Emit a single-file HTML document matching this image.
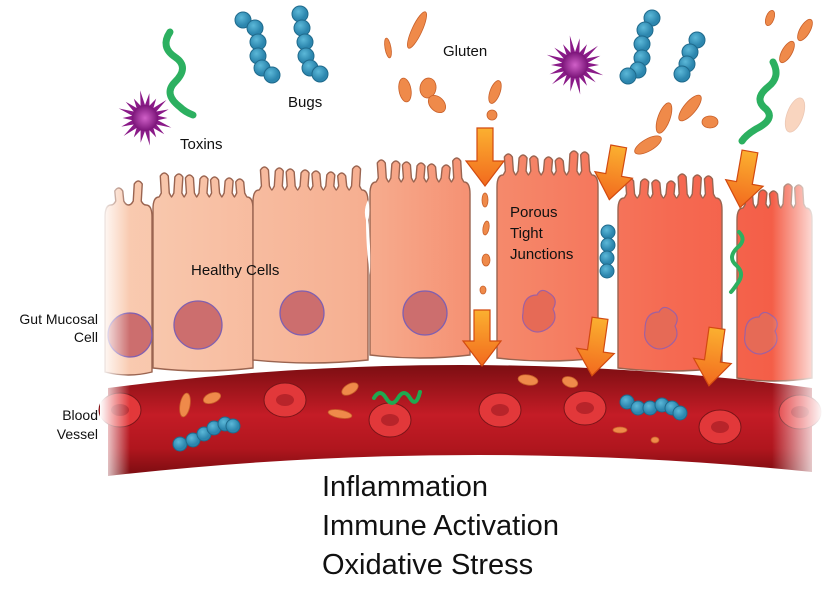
<!DOCTYPE html>
<html><head><meta charset="utf-8"><style>
html,body{margin:0;padding:0;background:#fff;width:824px;height:591px;overflow:hidden}
svg{display:block}
text{font-family:"Liberation Sans",Arial,sans-serif;fill:#111}
</style></head><body>
<svg id="s" width="824" height="591" viewBox="0 0 824 591" xmlns="http://www.w3.org/2000/svg">
<defs>
<linearGradient id="cellg" gradientUnits="userSpaceOnUse" x1="110" y1="0" x2="810" y2="0">
<stop offset="0" stop-color="#f9ccb2"/><stop offset="0.35" stop-color="#f6b092"/><stop offset="0.55" stop-color="#f58a6c"/><stop offset="0.8" stop-color="#f56a52"/><stop offset="1" stop-color="#f45a44"/></linearGradient>
<linearGradient id="bv" x1="0" y1="0" x2="0" y2="1">
<stop offset="0" stop-color="#7c0e12"/><stop offset="0.45" stop-color="#c41c26"/><stop offset="0.75" stop-color="#b0161e"/><stop offset="1" stop-color="#7a0c10"/></linearGradient>
<linearGradient id="arr" x1="0" y1="0" x2="0" y2="1">
<stop offset="0" stop-color="#fbb030"/><stop offset="1" stop-color="#f26a1e"/></linearGradient>
<linearGradient id="fl" x1="0" x2="1"><stop offset="0" stop-color="#fff" stop-opacity="1"/><stop offset="1" stop-color="#fff" stop-opacity="0"/></linearGradient>
<linearGradient id="fr" x1="0" x2="1"><stop offset="0" stop-color="#fff" stop-opacity="0"/><stop offset="1" stop-color="#fff" stop-opacity="1"/></linearGradient>
<radialGradient id="tox"><stop offset="0" stop-color="#d060c8"/><stop offset="1" stop-color="#7a1478"/></radialGradient>
<radialGradient id="bug" cx="0.4" cy="0.35"><stop offset="0" stop-color="#5cb8d8"/><stop offset="1" stop-color="#2c86ae"/></radialGradient>
</defs>
<g id="cells"></g>
<path d="M108,388 Q460,342 812,388 L812,472 Q460,436 108,476 Z" fill="url(#bv)"/>
<g id="blood"></g>
<g id="top"></g>
<g id="arrows"></g>
<rect x="100" y="150" width="30" height="340" fill="url(#fl)"/>
<rect x="772" y="150" width="52" height="340" fill="url(#fr)"/>
<text x="180" y="149" font-size="15">Toxins</text>
<text x="288" y="107" font-size="15">Bugs</text>
<text x="443" y="56" font-size="15">Gluten</text>
<text x="191" y="275" font-size="15">Healthy Cells</text>
<text x="510" y="217" font-size="15">Porous</text>
<text x="510" y="238" font-size="15">Tight</text>
<text x="510" y="259" font-size="15">Junctions</text>
<text x="98" y="324" font-size="14" text-anchor="end">Gut Mucosal</text>
<text x="98" y="342" font-size="14" text-anchor="end">Cell</text>
<text x="98" y="420" font-size="14" text-anchor="end">Blood</text>
<text x="98" y="439" font-size="14" text-anchor="end">Vessel</text>
<text x="322" y="496" font-size="29">Inflammation</text>
<text x="322" y="535" font-size="29">Immune Activation</text>
<text x="322" y="574" font-size="29">Oxidative Stress</text>
</svg>
<script>
const NS="http://www.w3.org/2000/svg";
function el(p,t,a){const e=document.createElementNS(NS,t);for(const k in a)e.setAttribute(k,a[k]);document.getElementById(p).appendChild(e);return e;}
const cells=[[105,152,205,372],[153,253,197,368],[253,368,190,360],[370,470,182,355],[497,598,175,358],[618,722,198,368],[737,812,208,378]];
cells.forEach((c,ci)=>{let [x0,x1,t,b]=c;let d=`M${x0},${b} L${x0},${t+12} Q${x0},${t} ${x0+6},${t}`;
let x=x0+6;const w=(x1-x0-12);const n=Math.floor(w/12);const sp=w/n;
for(let i=0;i<n;i++){const cx=x+sp/2;const h=18+(((i+ci)*7)%8);const k=(i%2?1:-1);
d+=` Q${cx-6},${t} ${cx-4},${t-4} L${cx-4+k},${t-h+4} Q${cx+k},${t-h-2} ${cx+4+k},${t-h+4} L${cx+4},${t-4} Q${cx+6},${t} ${x+sp},${t}`;x+=sp;}
d+=` L${x1-6},${t} Q${x1},${t} ${x1},${t+12} L${x1},${b} Q${(x0+x1)/2},${b+6} ${x0},${b} Z`;
el("cells","path",{d:d,fill:"url(#cellg)",stroke:"#9a6450","stroke-width":"1.4"});});
[[130,335,22],[198,325,24],[302,313,22],[425,313,22]].forEach(n=>el("cells","circle",{cx:n[0],cy:n[1],r:n[2],fill:"#cc6e6e",stroke:"#8060b0","stroke-width":"1.3"}));
[[543,313],[665,330],[765,335]].forEach(n=>el("cells","path",{d:`M${n[0]-20},${n[1]} q0,-18 14,-18 q4,-8 12,-2 q10,6 4,16 q6,12 -6,20 q-10,6 -18,0 q-8,-6 -6,-16z`,fill:"#e66a56",stroke:"#a060a0","stroke-width":"1.2"}));
el("cells","path",{d:"M368,200 q3,10 0,20 q3,25 2,55 q-4,-25 -4,-55 q-3,-10 2,-20z",fill:"#fff"});
[[120,410],[285,400],[390,420],[500,410],[585,408],[720,427],[800,412]].forEach(r=>{el("blood","ellipse",{cx:r[0],cy:r[1],rx:21,ry:17,fill:"#e2383a",stroke:"#7a1418","stroke-width":"1"});el("blood","ellipse",{cx:r[0],cy:r[1],rx:9,ry:6,fill:"#b8242a"});});
const blob=(g,x,y,rx,ry,rot,op)=>el(g,"ellipse",{cx:x,cy:y,rx:rx,ry:ry,transform:`rotate(${rot} ${x} ${y})`,fill:"#ef8a4a",stroke:"#c8602a","stroke-width":"0.8",opacity:op||1});
[[185,405,5,12,10],[212,398,9,5,-20],[350,389,9,5,-30],[340,414,12,4,10],[528,380,10,5,10],[570,382,8,5,20],[620,430,7,3,0],[655,440,4,3,0]].forEach(b=>blob("blood",...b));
const chain=(g,pts,r)=>pts.forEach(p=>el(g,"circle",{cx:p[0],cy:p[1],r:r,fill:"url(#bug)",stroke:"#1f6a8c","stroke-width":"1"}));
chain("blood",[[180,444],[193,440],[204,434],[214,428],[225,424],[233,426]],7);
chain("blood",[[627,402],[638,408],[650,408],[662,405],[672,408],[680,413]],7);
el("blood","path",{d:"M374,398 q6,-10 12,0 t12,0 t12,0 t10,-6",fill:"none",stroke:"#20a850","stroke-width":"4","stroke-linecap":"round"});
const star=(x,y,R,r)=>{let d="";for(let i=0;i<36;i++){const a=i*Math.PI/18;const rr=i%2?r:R*(0.8+0.2*((i*7)%3)/2);d+=(i?"L":"M")+(x+rr*Math.cos(a)).toFixed(1)+","+(y+rr*Math.sin(a)).toFixed(1);}el("top","path",{d:d+"Z",fill:"#8a1a88"});el("top","circle",{cx:x,cy:y,r:r,fill:"url(#tox)"});};
star(145,118,28,13);star(575,65,30,13);
const sq=(d,w)=>el("top","path",{d:d,fill:"none",stroke:"#2cb060","stroke-width":w||7,"stroke-linecap":"round"});
sq("M170,32 q-10,15 5,25 q15,10 0,25 q-12,12 5,25 q5,5 13,8");
sq("M773,62 q8,15 -5,25 q-15,12 -2,22 q10,10 -10,20 q-10,6 -14,12");
sq("M739,232 q8,8 -2,16 q-10,10 0,18 q8,8 0,18 q-4,6 -6,8",4);
chain("top",[[243,20],[255,28],[258,42],[258,56],[262,68],[272,75]],8);
chain("top",[[300,14],[302,28],[305,42],[306,56],[310,68],[320,74]],8);
chain("top",[[652,18],[645,30],[642,44],[642,58],[638,70],[628,76]],8);
chain("top",[[697,40],[690,52],[687,64],[682,74]],8);
chain("top",[[608,232],[608,245],[607,258],[607,271]],7);
[[417,30,5,20,25],[388,48,3,10,-10],[428,88,8,10,10],[405,90,6,12,-10],[437,104,10,7,45],[495,92,5,12,20],[492,115,5,5,0],[770,18,4,8,20],[805,30,5,12,30],[787,52,5,12,30],[664,118,6,16,20],[690,108,6,16,40],[710,122,8,6,0],[648,145,6,15,60],[795,115,8,18,20,0.35],[485,200,3,7,0],[486,228,3,7,10],[486,260,4,6,0],[483,290,3,4,0]].forEach(b=>blob("top",...b));
const arrow=(x,y1,y2,rot)=>{const d=`M${x-8},${y1} L${x+8},${y1} L${x+8},${y2-25} L${x+19},${y2-25} L${x},${y2} L${x-19},${y2-25} L${x-8},${y2-25} Z`;el("arrows","path",{d:d,fill:"url(#arr)",stroke:"#d24a10","stroke-width":"1.2",transform:`rotate(${rot} ${x} ${(y1+y2)/2})`});};
arrow(485,128,186,0);arrow(614,146,200,10);arrow(745,151,208,10);
arrow(482,310,366,0);arrow(596,318,376,8);arrow(713,328,386,8);
</script>
</body></html>
